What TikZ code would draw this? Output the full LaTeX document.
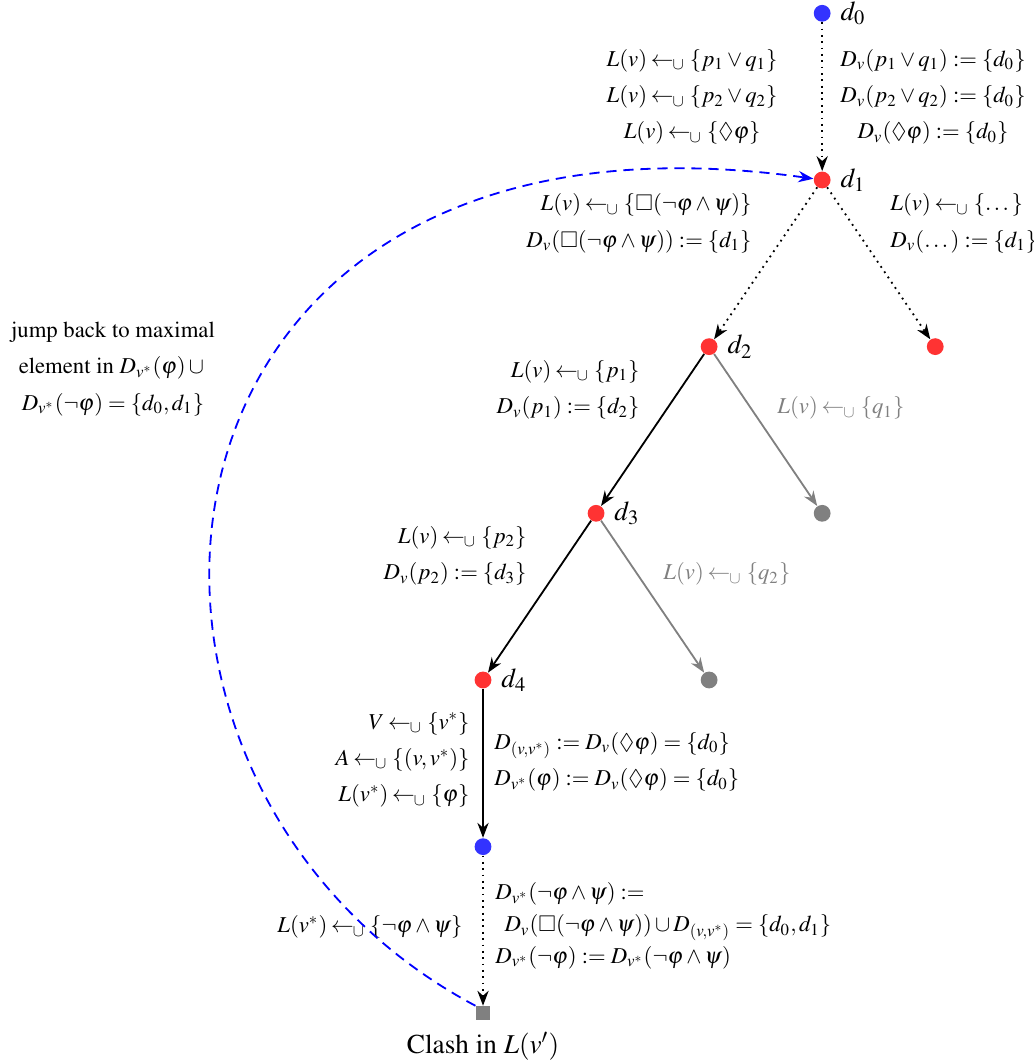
\documentclass[tikz,border=0pt]{standalone}
\usepackage[T1]{fontenc}
\usepackage{amsmath}
\usepackage{amssymb}
\usepackage{mathptmx}
\usepackage{tikz}
\usetikzlibrary{arrows.meta,positioning}

\newcommand{\lcup}{\mathrel{\mkern-1mu\leftarrow_{\mkern-1mu\cup}}}

\begin{document}
\begin{tikzpicture}[
  >=Stealth,
  dot/.style={circle,inner sep=0pt,minimum size=2.6mm},
  bluedot/.style={dot,fill=blue!80},
  reddot/.style={dot,fill=red!80},
  graydot/.style={dot,fill=gray},
  dlab/.style={inner sep=1pt,font=\large},
  lbl/.style={inner sep=0pt,font=\fontsize{10}{16}\selectfont},
  edge/.style={thick,->},
]
\useasboundingbox (-7.477,-5.898) rectangle (8.529,10.526);

% tree
\node[bluedot] (d0) at (5.25,10.32) {};
\node[reddot] (d1) at (5.25,7.74) {};
\node[reddot] (d2) at (3.5,5.16) {};
\node[reddot] (d1r) at (7,5.16) {};
\node[reddot] (d3) at (1.75,2.58) {};
\node[graydot] (q1) at (5.25,2.58) {};
\node[reddot] (d4) at (0,0) {};
\node[graydot] (q2) at (3.5,0) {};
\node[bluedot] (vstar) at (0,-2.58) {};
\node[fill=gray,inner sep=0pt,minimum size=2.2mm] (clash) at (0,-5.16) {};

\node[dlab,right=3pt of d0] (d0lab) {$d_0$};
\node[dlab,right=3pt of d1] (d1lab) {$d_1$};
\node[dlab,right=3pt of d2] (d2lab) {$d_2$};
\node[dlab,right=3pt of d3] (d3lab) {$d_3$};
\node[dlab,right=3pt of d4] (d4lab) {$d_4$};
\node[below=5pt of clash,font=\large,inner sep=0pt] (clashlab) {Clash in $L(v')$};

\draw[edge,dotted] (d0) -- (d1);
\draw[edge,dotted] (d1) -- (d2);
\draw[edge,dotted] (d1) -- (d1r);
\draw[edge] (d2) -- (d3);
\draw[edge,gray] (d2) -- (q1);
\draw[edge] (d3) -- (d4);
\draw[edge,gray] (d3) -- (q2);
\draw[edge] (d4) -- (vstar);
\draw[edge,dotted] (vstar) -- (clash);

% rule applications
\node[lbl,anchor=east,align=center] (d01l) at (4.567,9.025)
  {$L(v)\lcup\{p_1\vee q_1\}$\\$L(v)\lcup\{p_2\vee q_2\}$\\$L(v)\lcup\{\lozenge\varphi\}$};
\node[lbl,anchor=west,align=center] (d01r) at (5.526,9.025)
  {$D_v(p_1\vee q_1):=\{d_0\}$\\$D_v(p_2\vee q_2):=\{d_0\}$\\$D_v(\lozenge\varphi):=\{d_0\}$};
\node[lbl,anchor=east,align=right] (d12l) at (4.164,7.067)
  {$L(v)\lcup\{\Box(\neg\varphi\wedge\psi)\}$\\$D_v(\Box(\neg\varphi\wedge\psi)):=\{d_1\}$};
\node[lbl,anchor=west,align=left] (d12r) at (6.3,7.067)
  {$L(v)\lcup\{\dots\}$\\$D_v(\dots):=\{d_1\}$};
\node[lbl,anchor=east,align=right] (d23l) at (2.43,4.489)
  {$L(v)\lcup\{p_1\}$\\$D_v(p_1):=\{d_2\}$};
\node[lbl,anchor=west,text=gray] (d2q) at (4.551,4.211) {$L(v)\lcup\{q_1\}$};
\node[lbl,anchor=east,align=right] (d34l) at (0.681,1.92)
  {$L(v)\lcup\{p_2\}$\\$D_v(p_2):=\{d_3\}$};
\node[lbl,anchor=west,text=gray] (d3q) at (2.786,1.641) {$L(v)\lcup\{q_2\}$};
\node[lbl,anchor=east,align=right] (d4l) at (-0.201,-1.238)
  {$V\lcup\{v^*\}$\\$A\lcup\{(v,v^*)\}$\\$L(v^*)\lcup\{\varphi\}$};
\node[lbl,anchor=west,align=left] (d4r) at (0.17,-1.269)
  {$D_{(v,v^*)}:=D_v(\lozenge\varphi)=\{d_0\}$\\$D_{v^*}(\varphi):=D_v(\lozenge\varphi)=\{d_0\}$};
\node[lbl,anchor=east] (vl) at (-0.31,-3.824) {$L(v^*)\lcup\{\neg\varphi\wedge\psi\}$};
\node[lbl,anchor=west,align=left,font=\fontsize{10}{14}\selectfont] (vr) at (0.186,-3.808)
  {$D_{v^*}(\neg\varphi\wedge\psi):=$\\\hspace*{4pt}$D_v(\Box(\neg\varphi\wedge\psi))\cup D_{(v,v^*)}=\{d_0,d_1\}$\\$D_{v^*}(\neg\varphi):=D_{v^*}(\neg\varphi\wedge\psi)$};

% backjump
\node[lbl,align=center] (jump) at (-5.728,4.814)
  {jump back to maximal\\element in $D_{v^*}(\varphi)\cup{}$\\$D_{v^*}(\neg\varphi)=\{d_0,d_1\}$};
\draw[->,thick,dash pattern=on 4.5pt off 3pt,blue] (clash.north west) .. controls +(152:7.4) and +(172:11.1) .. (d1);
\end{tikzpicture}
\end{document}
